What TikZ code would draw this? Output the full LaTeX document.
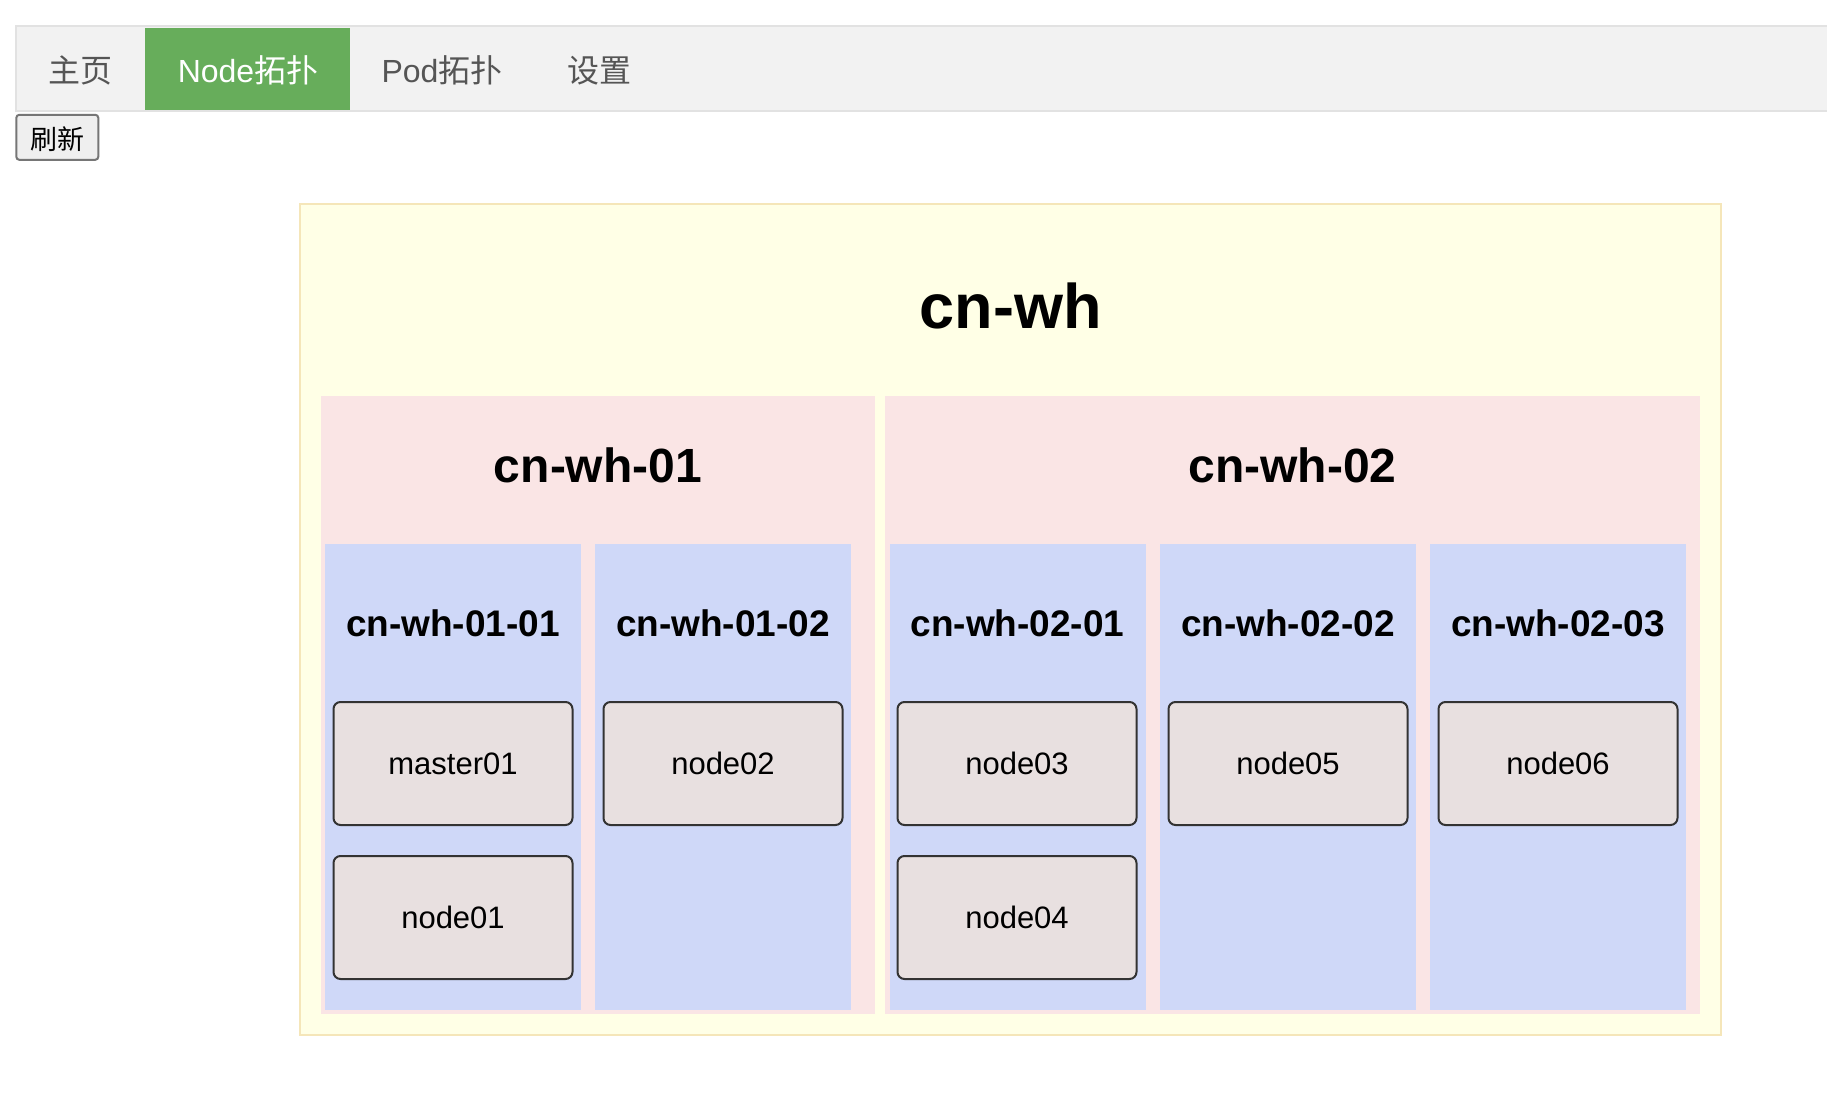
\documentclass[tikz,border=0pt]{standalone}
\usepackage{fontspec}
\setmainfont{Liberation Sans}
\newfontfamily\cjk{Noto Sans CJK SC}
\definecolor{yfill}{RGB}{255,255,230}
\definecolor{yline}{RGB}{245,230,185}
\definecolor{pinkc}{RGB}{250,229,229}
\definecolor{bluec}{RGB}{207,216,248}
\definecolor{nfill}{RGB}{232,224,224}
\definecolor{nline}{RGB}{51,51,51}
\definecolor{tabfill}{RGB}{242,242,242}
\definecolor{tabline}{RGB}{226,226,226}
\definecolor{greenc}{RGB}{103,173,91}
\definecolor{tabtext}{RGB}{85,85,85}
\definecolor{btnfill}{RGB}{239,239,239}
\definecolor{btnline}{RGB}{118,118,118}
\begin{document}
\begin{tikzpicture}[x=1pt,y=-1pt,
  every node/.style={inner sep=0pt,outer sep=0pt},
  ybox/.style={draw=yline,fill=yfill,line width=2pt},
  pbox/.style={fill=pinkc,minimum height=618pt},
  bbox/.style={fill=bluec,minimum width=256pt,minimum height=466pt},
  hostbox/.style={draw=nline,fill=nfill,line width=2pt,rounded corners=7pt,
    minimum width=239pt,minimum height=123pt,font=\fontsize{31}{36}\selectfont},
  title/.style={anchor=base,font=\fontsize{63}{70}\bfseries\selectfont},
  ztitle/.style={anchor=base,font=\fontsize{48}{54}\bfseries\selectfont},
  rtitle/.style={anchor=base,font=\fontsize{37}{42}\bfseries\selectfont},
  tabtxt/.style={anchor=base,text=tabtext,font=\fontsize{32}{36}\selectfont},
]
\useasboundingbox[fill=white] (0,0) rectangle (1827,1097);
% tab bar
\node[draw=tabline,fill=tabfill,line width=2pt,minimum width=1830pt,minimum height=85pt] (bar) at (930.8,68.5) {};
\node[fill=greenc,minimum width=205pt,minimum height=82pt] (active) at (247.5,69) {};
\node[tabtxt] (t1) at (80,83) {\cjk 主页};
\node[tabtxt,text=white] (t2) at (248,83) {Node\cjk 拓扑};
\node[tabtxt] (t3) at (442,83) {Pod\cjk 拓扑};
\node[tabtxt] (t4) at (599,83) {\cjk 设置};
% refresh button
\node[draw=btnline,fill=btnfill,line width=2pt,rounded corners=3pt,minimum width=82pt,minimum height=45pt] (btn) at (57.3,137.3) {};
\node[anchor=base,font=\cjk\fontsize{27}{30}\selectfont] (btntxt) at (57.6,149) {刷新};
% outer zone
\node[ybox,minimum width=1421pt,minimum height=831pt] (wh) at (1010.5,619.5) {};
\node[title] (whl) at (1010.5,328) {cn-wh};
% zones
\node[pbox,minimum width=554pt] (z1) at (598,705) {};
\node[pbox,minimum width=815pt] (z2) at (1292.5,705) {};
\node[ztitle] (z1l) at (598,482) {cn-wh-01};
\node[ztitle] (z2l) at (1292.5,482) {cn-wh-02};
% racks
\node[bbox] (r1) at (453,777) {};
\node[bbox] (r2) at (723,777) {};
\node[bbox] (r3) at (1017.5,777) {};
\node[bbox] (r4) at (1288,777) {};
\node[bbox] (r5) at (1558,777) {};
\node[rtitle] (r1l) at (453,636) {cn-wh-01-01};
\node[rtitle] (r2l) at (723,636) {cn-wh-01-02};
\node[rtitle] (r3l) at (1017.5,636) {cn-wh-02-01};
\node[rtitle] (r4l) at (1288,636) {cn-wh-02-02};
\node[rtitle] (r5l) at (1558,636) {cn-wh-02-03};
% hosts
\node[hostbox] (h1) at (453,763.5) {master01};
\node[hostbox] (h2) at (453,917.5) {node01};
\node[hostbox] (h3) at (723,763.5) {node02};
\node[hostbox] (h4) at (1017,763.5) {node03};
\node[hostbox] (h5) at (1017,917.5) {node04};
\node[hostbox] (h6) at (1288,763.5) {node05};
\node[hostbox] (h7) at (1558,763.5) {node06};
\end{tikzpicture}
\end{document}
